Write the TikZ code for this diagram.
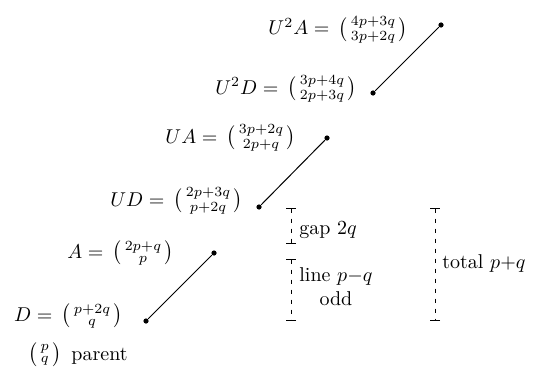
\documentclass[tikz,border=0pt]{standalone}
\usepackage{amsmath,amssymb}
\usetikzlibrary{arrows.meta}
\newcommand{\vecpq}[2]{\,\bigl(\begin{smallmatrix}#1\\#2\end{smallmatrix}\bigr)}

\begin{document}
\begin{tikzpicture}[x=0.5pt,y=-0.5pt,
  lbl/.style={anchor=east,inner sep=0pt},
  dot/.style={circle,fill,inner sep=0pt,minimum size=2.6pt},
  seg/.style={line width=0.5pt},
  gauge/.style={{Bar[width=5pt]}-{Bar[width=5pt]},dash pattern=on 2pt off 3pt}
]
  \useasboundingbox (0,0) rectangle (533,369);
  % labels of the vectors
  \node[lbl] (u2a) at (408,30)  {$U^2A=\vecpq{4p+3q}{3p+2q}$};
  \node[lbl] (u2d) at (357,89)  {$U^2D=\vecpq{3p+4q}{2p+3q}$};
  \node[lbl] (ua)  at (296,138) {$UA=\vecpq{3p+2q}{2p+q}$};
  \node[lbl] (ud)  at (243,201) {$UD=\vecpq{2p+3q}{p+2q}$};
  \node[lbl] (a)   at (174,253) {$A=\vecpq{2p+q}{p}$};
  \node[lbl] (d)   at (123,316) {$D=\vecpq{p+2q}{q}$};
  \node[lbl] (par) at (128,355) {$\bigl(\begin{smallmatrix}p\\q\end{smallmatrix}\bigr)$\enspace parent};
  % segments
  \foreach \n/\lo/\hi in {1/{146,321}/{214,253},2/{259,207}/{327,138},3/{373,93}/{441,25}}{
    \node[dot] (lo\n) at (\lo) {};
    \node[dot] (hi\n) at (\hi) {};
    \draw[seg] (lo\n) -- (hi\n);
  }
  % gauges
  \coordinate (g1) at (291,208);
  \coordinate (g2) at (291,244);
  \coordinate (g3) at (291,259);
  \coordinate (g4) at (291,321);
  \coordinate (t1) at (435,208);
  \coordinate (t2) at (435,321);
  \draw[gauge] (g1) -- (g2);
  \draw[gauge] (g3) -- (g4);
  \draw[gauge] (t1) -- (t2);
  \node[anchor=west,inner sep=0pt] (gap) at (299,230) {gap $2q$};
  \node[anchor=west,inner sep=0pt,align=center] (line) at (299,287) {line $p{-}q$\\odd};
  \node[anchor=west,inner sep=0pt] (tot) at (442,263) {total $p{+}q$};
\end{tikzpicture}
\end{document}
